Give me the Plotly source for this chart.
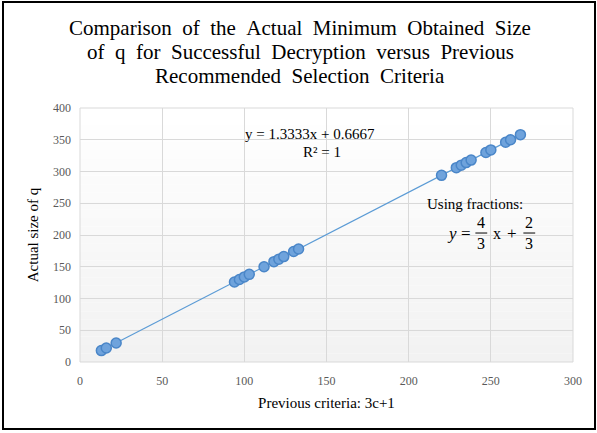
import numpy as np
import plotly.graph_objects as go

# Data
prev_criteria = [13, 16, 22, 94, 97, 100, 103, 112, 118, 121, 124, 130, 133,
                 220, 229, 232, 235, 238, 247, 250, 259, 262, 268]
actual_q = [18, 22, 30, 126, 130, 134, 138, 150, 158, 162, 166, 174, 178,
            294, 306, 310, 314, 318, 330, 334, 346, 350, 358]

x_ticks = [0, 50, 100, 150, 200, 250, 300]
y_ticks = [0, 50, 100, 150, 200, 250, 300, 350, 400]

title_lines = [
    "Comparison of the Actual Minimum Obtained Size",
    "of q for Successful Decryption versus Previous",
    "Recommended Selection Criteria",
]

SERIF = "Liberation Serif, Times New Roman, serif"

# Linear trendline fitted from the data
slope, intercept = np.polyfit(prev_criteria, actual_q, 1)
tx = np.array([min(prev_criteria), max(prev_criteria)])
ty = slope * tx + intercept

fig = go.Figure()

fig.add_trace(go.Scatter(
    x=tx, y=ty, mode="lines",
    line=dict(color="#5B9BD5", width=1.2),
    hoverinfo="skip", showlegend=False,
))
fig.add_trace(go.Scatter(
    x=prev_criteria, y=actual_q, mode="markers",
    marker=dict(size=10, color="#6FA3DC", line=dict(color="#4A86C8", width=1.5)),
    showlegend=False,
))

shapes = []
# gradient background of plot area
n = 30
for i in range(n):
    t = i / (n - 1)
    c = int(round(255 - 13 * (1 - t)))
    shapes.append(dict(type="rect", xref="paper", yref="paper",
                       x0=0, x1=1, y0=i / n, y1=(i + 1) / n,
                       fillcolor=f"rgb({c},{c},{c})", line=dict(width=0),
                       layer="below"))
# plot area border
shapes.append(dict(type="rect", xref="paper", yref="paper", x0=0, x1=1, y0=0, y1=1,
                   line=dict(color="#D9D9D9", width=1), layer="below"))
# outer chart border
shapes.append(dict(type="rect", xref="paper", yref="paper",
                   x0=(3 - 80) / 493, x1=(595 - 80) / 493,
                   y0=(362 - 429) / 254, y1=(362 - 2) / 254,
                   line=dict(color="black", width=2)))
# fraction bars
shapes.append(dict(type="line", xref="x", yref="y", x0=240.6, x1=247.8, y0=203.1, y1=203.1,
                   line=dict(color="black", width=1)))
shapes.append(dict(type="line", xref="x", yref="y", x0=269.8, x1=277.0, y0=203.1, y1=203.1,
                   line=dict(color="black", width=1)))

ann_font = dict(family=SERIF, size=15, color="#000000")
eq_y = 203.1
annotations = [
    dict(x=140, y=359, text="y = 1.3333x + 0.6667", showarrow=False, font=ann_font),
    dict(x=147.5, y=331, text="R² = 1", showarrow=False, font=ann_font),
    dict(x=240.5, y=249, text="Using fractions:", showarrow=False, font=ann_font),
    dict(x=226.6, y=eq_y, text="<i>y</i>", showarrow=False, font=dict(family=SERIF, size=17, color="#000")),
    dict(x=235.0, y=eq_y, text="=", showarrow=False, font=dict(family=SERIF, size=17, color="#000")),
    dict(x=244.2, y=219.5, text="4", showarrow=False, font=dict(family=SERIF, size=16, color="#000")),
    dict(x=244.2, y=186, text="3", showarrow=False, font=dict(family=SERIF, size=16, color="#000")),
    dict(x=253.8, y=eq_y, text="x", showarrow=False, font=dict(family=SERIF, size=16, color="#000")),
    dict(x=263.0, y=eq_y, text="+", showarrow=False, font=dict(family=SERIF, size=17, color="#000")),
    dict(x=273.4, y=219.5, text="2", showarrow=False, font=dict(family=SERIF, size=16, color="#000")),
    dict(x=273.4, y=186, text="3", showarrow=False, font=dict(family=SERIF, size=16, color="#000")),
]
# title lines (word gaps widened to match the original's spacing)
for i, line in enumerate(title_lines):
    py = 28 + 24 * i
    annotations.append(dict(
        xref="paper", yref="paper", x=(300 - 80) / 493, y=(362 - py) / 254,
        text=line.replace(" ", " &nbsp;"), showarrow=False,
        xanchor="center", yanchor="middle",
        font=dict(family=SERIF, size=21, color="#000000"),
    ))

fig.update_layout(
    width=597, height=433,
    margin=dict(l=80, r=24, t=108, b=71),
    paper_bgcolor="white", plot_bgcolor="rgba(0,0,0,0)",
    xaxis=dict(
        range=[0, 300], tickvals=x_ticks, showgrid=True, gridcolor="#D9D9D9", gridwidth=1,
        zeroline=False, showline=False, ticks="", ticklabelstandoff=10,
        tickfont=dict(family=SERIF, size=12, color="#595959"),
        title=dict(text="Previous criteria: 3c+1", font=dict(family=SERIF, size=15, color="#000"), standoff=10),
    ),
    yaxis=dict(
        range=[0, 400], tickvals=y_ticks, showgrid=True, gridcolor="#D9D9D9", gridwidth=1,
        zeroline=False, showline=False, ticks="", ticklabelstandoff=8,
        tickfont=dict(family=SERIF, size=12, color="#595959"),
        title=dict(text="Actual size of q", font=dict(family=SERIF, size=15, color="#000"), standoff=10),
    ),
    shapes=shapes,
    annotations=annotations,
)

fig.write_html("out.html", config={"displayModeBar": False},
               post_script="document.body.style.margin='0';")
